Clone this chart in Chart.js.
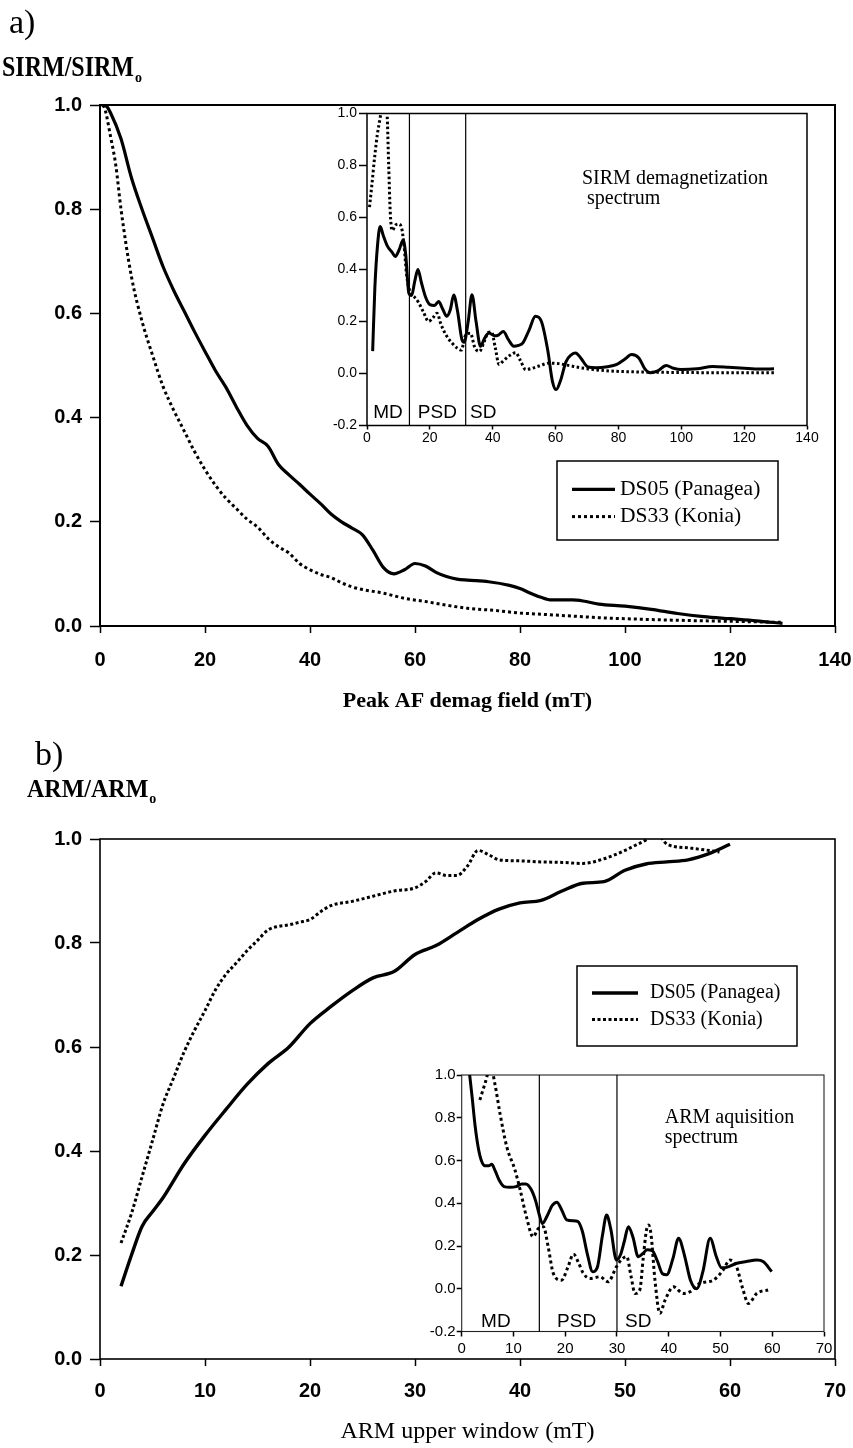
<!DOCTYPE html>
<html>
<head>
<meta charset="utf-8">
<script src="https://cdn.jsdelivr.net/npm/chart.js@4.4.1/dist/chart.umd.min.js"></script>
<style>
  html, body { margin: 0; padding: 0; background: #fff; }
  #page { position: relative; width: 853px; height: 1448px; overflow: hidden; background: #fff; }
  .slot { position: absolute; }
  canvas { display: block; }
</style>
</head>
<body>
<div id="page">
  <div class="slot" style="left:0;top:0;"><canvas id="mainA" width="853" height="720"></canvas></div>
  <div class="slot" style="left:320px;top:100px;"><canvas id="insetA" width="500" height="360"></canvas></div>
  <div class="slot" style="left:0;top:720px;"><canvas id="mainB" width="853" height="728"></canvas></div>
  <div class="slot" style="left:420px;top:1060px;"><canvas id="insetB" width="420" height="300"></canvas></div>
</div>
<script>
// ---------------- data ----------------
// a) SIRM demagnetization curves: peak AF field (mT) vs SIRM/SIRMo
const sirmFieldDS05 = [0.3,1.2,2,4,6,8,10,12,14,16,18,20,22,24,26,28,30,32,34,36,38,40,42,44,46,48,50,52,54,56,58,60,62,64,66,68,70,74,78,80,82,84,86,90,92,95,100,105,110,115,120,125,130];
const sirmDS05 = [1.0,0.998,0.985,0.935,0.86,0.80,0.745,0.69,0.645,0.605,0.565,0.527,0.49,0.458,0.42,0.385,0.36,0.345,0.31,0.29,0.272,0.253,0.235,0.215,0.20,0.188,0.175,0.145,0.112,0.10,0.108,0.12,0.115,0.103,0.095,0.09,0.088,0.085,0.078,0.072,0.063,0.055,0.05,0.05,0.048,0.042,0.038,0.032,0.024,0.018,0.014,0.01,0.005];
const sirmFieldDS33 = [0.6,1,2,3,4,6,8,10,12,14,16,18,20,22,24,26,28,30,32,34,36,38,40,42,44,46,48,50,54,58,62,66,70,75,80,85,90,95,100,110,120,130];
const sirmDS33 = [1.0,0.99,0.94,0.885,0.80,0.67,0.585,0.52,0.46,0.415,0.375,0.335,0.30,0.27,0.245,0.225,0.205,0.19,0.168,0.152,0.14,0.12,0.108,0.099,0.093,0.083,0.075,0.07,0.063,0.053,0.047,0.04,0.034,0.03,0.025,0.022,0.019,0.016,0.014,0.011,0.009,0.007];

// a) inset: SIRM demagnetization spectrum
const specAFieldDS05 = [1.8,2.5,3.4,4.2,5.2,6.5,8.0,9.0,10.2,11.5,12.3,13.3,14.2,15.2,16.2,17.3,18.6,20.0,21.5,22.8,24.0,25.4,26.5,27.6,28.8,30.2,30.9,32.2,33.4,34.7,36.1,37.4,38.8,40.6,41.8,43.4,45.0,46.7,48.2,49.6,51.5,53.6,55.5,57.5,59.0,60.2,61.5,63.3,65.0,66.4,68.0,70.3,73.0,76.5,79.5,82.0,84.2,86.5,88.3,90.2,92.5,95.2,97.5,100,105,110,115,120,125,129.5];
const specADS05 = [0.086,0.33,0.50,0.565,0.53,0.49,0.466,0.45,0.475,0.513,0.46,0.31,0.30,0.355,0.40,0.35,0.295,0.265,0.262,0.277,0.25,0.22,0.245,0.302,0.24,0.13,0.12,0.2,0.303,0.2,0.105,0.135,0.156,0.145,0.148,0.162,0.13,0.105,0.108,0.118,0.165,0.22,0.2,0.09,-0.03,-0.062,-0.03,0.045,0.072,0.079,0.06,0.025,0.022,0.026,0.035,0.055,0.073,0.06,0.02,0.003,0.01,0.031,0.02,0.015,0.018,0.027,0.024,0.02,0.017,0.018];
const specAFieldDS33 = [0.8,1.5,2.5,3.3,4.0,4.7,5.5,6.3,6.9,7.4,8.0,9.0,10.0,11.0,11.8,12.6,13.8,15.0,16.3,18.0,19.6,21.0,22.3,23.5,25.3,27.2,29.0,30.0,31.3,32.9,34.3,35.8,37.2,38.6,39.6,40.8,42.0,43.5,45.5,47.3,48.8,50.5,52.5,55.0,58.0,61.0,64.5,68.0,72.0,77.0,83.0,90.0,100,110,120,130];
const specADS33 = [0.64,0.72,0.84,0.92,0.97,1.02,1.05,1.02,0.80,0.62,0.55,0.57,0.575,0.56,0.49,0.38,0.31,0.295,0.275,0.235,0.20,0.215,0.232,0.19,0.145,0.115,0.095,0.09,0.145,0.155,0.1,0.085,0.12,0.158,0.16,0.1,0.035,0.05,0.07,0.08,0.05,0.015,0.02,0.03,0.04,0.038,0.03,0.022,0.015,0.01,0.007,0.005,0.004,0.003,0.003,0.003];

// b) ARM acquisition curves: ARM upper window (mT) vs ARM/ARMo
const armWindowDS05 = [2,3,4,5,6,8,10,12,14,16,18,20,22,24,26,28,30,32,34,36,38,40,42,44,46,48,50,52,54,56,58,60];
const armDS05 = [0.14,0.20,0.255,0.283,0.31,0.375,0.43,0.48,0.528,0.568,0.60,0.645,0.678,0.708,0.733,0.745,0.778,0.795,0.82,0.845,0.865,0.877,0.882,0.90,0.915,0.918,0.94,0.952,0.956,0.96,0.972,0.99];
const armWindowDS33 = [2,3,4,5,6,7,8,9,10,11,12,13,14,15,16,17,18,19,20,21,22,24,26,28,30,31,32,33,34,35,36,37,38,40,42,44,46,48,50,51,52,53,54,56,58,59];
const armDS33 = [0.223,0.28,0.35,0.42,0.49,0.54,0.59,0.632,0.67,0.71,0.74,0.762,0.785,0.805,0.825,0.832,0.835,0.84,0.845,0.86,0.872,0.88,0.89,0.90,0.906,0.918,0.935,0.93,0.93,0.948,0.978,0.97,0.96,0.958,0.956,0.955,0.953,0.962,0.978,0.988,0.998,1.012,0.99,0.983,0.978,0.975];

// b) inset: ARM acquisition spectrum
const specBWindowDS05 = [1.4,2.0,2.6,3.2,3.8,4.5,5.2,5.8,6.5,7.2,8.2,9.3,10.5,11.6,12.4,13.4,14.3,15.0,15.6,16.5,17.5,18.4,19.3,20.3,21.5,22.4,23.3,24.3,25.3,26.2,27.2,28.0,28.8,29.9,30.7,31.4,32.2,33.1,34.1,35.0,35.8,36.8,37.8,38.8,39.6,40.8,41.9,43.0,44.2,45.4,46.6,48.0,49.2,50.2,51.2,53.0,55.0,57.0,58.3,59.9];
const specBDS05 = [1.03,0.90,0.76,0.66,0.60,0.575,0.575,0.582,0.55,0.51,0.478,0.475,0.478,0.49,0.49,0.465,0.41,0.345,0.305,0.34,0.39,0.405,0.37,0.322,0.318,0.315,0.27,0.16,0.08,0.1,0.25,0.345,0.28,0.134,0.16,0.22,0.29,0.24,0.15,0.165,0.182,0.178,0.13,0.07,0.065,0.14,0.236,0.16,0.04,0.0,0.08,0.236,0.15,0.098,0.1,0.118,0.127,0.134,0.126,0.08];
const specBWindowDS33 = [3.5,4.5,5.2,5.9,6.4,7.4,8.7,10.3,11.3,12.5,13.8,14.8,15.8,16.7,17.7,19.3,20.5,21.6,22.6,23.5,24.8,26.7,28.3,29.9,31.0,31.9,32.7,33.5,34.4,35.1,35.7,36.1,36.6,37.3,38.3,39.3,40.9,42.8,44.1,46.0,48.6,50.5,51.8,53.1,54.3,55.4,57.0,59.2];
const specBDS33 = [0.883,0.96,1.01,1.01,0.96,0.82,0.665,0.555,0.462,0.337,0.243,0.282,0.29,0.197,0.072,0.04,0.1,0.162,0.12,0.072,0.048,0.056,0.033,0.103,0.14,0.15,0.06,-0.022,-0.006,0.15,0.275,0.298,0.25,0.05,-0.115,-0.053,0.009,-0.022,-0.014,0.025,0.04,0.087,0.134,0.103,0.0,-0.069,-0.022,-0.006];

// series names
const seriesNames = ['DS05 (Panagea)', 'DS33 (Konia)'];

// tick values
const fieldTicks = [0, 20, 40, 60, 80, 100, 120, 140];
const windowTicks = [0, 10, 20, 30, 40, 50, 60, 70];
const ratioTicks = [0, 0.2, 0.4, 0.6, 0.8, 1.0];
const spectrumTicks = [-0.2, 0, 0.2, 0.4, 0.6, 0.8, 1.0];

// domain-state boundaries (mT) and their labels
const domainLabels = ['MD', 'PSD', 'SD'];
const domainBoundsA = [13.5, 31.4];
const domainBoundsB = [15, 30];

// ---------------- helpers ----------------
const SANS = '"Liberation Sans", Arial, Helvetica, sans-serif';
const SERIF = '"Liberation Serif", "Times New Roman", Times, serif';
const INK = '#000';

// condensed face for the main axis numbers when it is installed
function hasFont(name) {
  const c = document.createElement('canvas').getContext('2d');
  const probe = '0.8 140 mmmwwwiiilll';
  c.font = '40px monospace';
  const ref = c.measureText(probe).width;
  c.font = '40px "' + name + '", monospace';
  return Math.abs(c.measureText(probe).width - ref) > 0.5;
}
const NARROW = hasFont('Liberation Sans Narrow');
const MAIN_TICK = NARROW
  ? { family: '"Liberation Sans Narrow", "Liberation Sans", Arial, sans-serif', size: 24 }
  : { family: SANS, size: 20 };

function pairs(xs, ys) { return xs.map((x, i) => ({ x: x, y: ys[i] })); }

function lineSet(label, xs, ys, width, dash) {
  return {
    label: label,
    data: pairs(xs, ys),
    borderColor: INK,
    backgroundColor: INK,
    borderWidth: width,
    borderDash: dash || [],
    borderCapStyle: 'butt',
    borderJoinStyle: 'round',
    pointRadius: 0,
    fill: false,
    cubicInterpolationMode: 'monotone'
  };
}

function axis(cfg) {
  const horizontal = cfg.horizontal;
  const family = cfg.family || SANS;
  // for the x axis, cfg.labelOffset is the distance from the axis line to the label centre
  const padding = cfg.labelOffset !== undefined ? cfg.labelOffset - cfg.tickLength - cfg.fontSize * 0.6 : cfg.padding;
  return {
    type: 'linear',
    min: cfg.min, max: cfg.max,
    afterBuildTicks: s => { s.ticks = cfg.ticks.map(v => ({ value: v })); },
    afterFit: s => {
      if (horizontal) s.height = cfg.size; else s.width = cfg.size;
      // keep the plot area fixed: edge labels may hang into the page margin
      s.paddingLeft = 0; s.paddingRight = 0; s.paddingTop = 0; s.paddingBottom = 0;
    },
    border: { display: false },
    grid: { display: true, drawOnChartArea: false, drawTicks: true, tickLength: cfg.tickLength, tickColor: INK, tickWidth: cfg.tickWidth || 1.5, color: INK },
    ticks: {
      color: INK, autoSkip: false, maxRotation: 0, minRotation: 0, padding: padding,
      font: { family: family, size: cfg.fontSize, weight: cfg.bold ? 'bold' : 'normal', lineHeight: 1.2 },
      callback: v => cfg.decimals ? Number(v).toFixed(cfg.decimals) : String(v)
    },
    title: cfg.title ? {
      display: true, text: cfg.title, color: INK,
      font: { family: SERIF, size: cfg.titleSize, weight: cfg.titleBold ? 'bold' : 'normal', lineHeight: 1.2 },
      padding: { top: 0, bottom: cfg.titlePad }
    } : { display: false }
  };
}

// box around the plot area
const framePlugin = {
  id: 'frame',
  beforeDatasetsDraw(chart, args, o) {
    const { ctx, chartArea: a } = chart;
    ctx.save();
    ctx.strokeStyle = o.color || INK;
    ctx.lineWidth = o.width || 1;
    ctx.strokeRect(a.left, a.top, a.right - a.left, a.bottom - a.top);
    ctx.restore();
  }
};

// domain boundaries, their labels and the caption of an inset
const domainPlugin = {
  id: 'domains',
  beforeDatasetsDraw(chart, args, o) {
    if (!o.bounds) return;
    const { ctx, chartArea: a, scales: { x } } = chart;
    ctx.save();
    ctx.strokeStyle = INK;
    ctx.lineWidth = o.lineWidth;
    o.bounds.forEach(v => {
      const px = x.getPixelForValue(v);
      ctx.beginPath(); ctx.moveTo(px, a.top); ctx.lineTo(px, a.bottom); ctx.stroke();
    });
    ctx.fillStyle = INK;
    ctx.font = o.labelFont;
    ctx.textAlign = 'center';
    ctx.textBaseline = 'middle';
    o.labels.forEach((t, i) => ctx.fillText(t, x.getPixelForValue(o.labelAt[i]), a.bottom - o.labelRise));
    ctx.font = o.captionFont;
    ctx.textAlign = 'left';
    ctx.textBaseline = 'alphabetic';
    o.caption.forEach((line, i) => ctx.fillText(line, a.left + o.captionDx, a.top + o.captionDy + i * o.captionLead));
    ctx.restore();
  }
};

// boxed legend built from the datasets
const boxLegendPlugin = {
  id: 'boxLegend',
  afterDraw(chart, args, o) {
    if (!o.width) return;
    const ctx = chart.ctx;
    ctx.save();
    ctx.strokeStyle = INK;
    ctx.fillStyle = INK;
    ctx.lineWidth = o.borderWidth;
    ctx.strokeRect(o.left, o.top, o.width, o.height);
    chart.data.datasets.forEach((ds, i) => {
      const cy = o.top + o.firstRow + i * o.rowGap;
      ctx.lineWidth = ds.borderWidth;
      ctx.setLineDash(ds.borderDash || []);
      ctx.beginPath();
      ctx.moveTo(o.left + o.sampleStart, cy);
      ctx.lineTo(o.left + o.sampleStart + o.sampleLen, cy);
      ctx.stroke();
      ctx.setLineDash([]);
      ctx.font = o.font;
      ctx.textAlign = 'left';
      ctx.textBaseline = 'middle';
      ctx.fillText(ds.label, o.left + o.textStart, cy);
    });
    ctx.restore();
  }
};

// panel letter and the horizontal quantity label above the y axis
const panelTextPlugin = {
  id: 'panelText',
  afterDraw(chart, args, o) {
    if (!o.items) return;
    const ctx = chart.ctx;
    ctx.save();
    ctx.fillStyle = INK;
    ctx.textBaseline = 'alphabetic';
    ctx.textAlign = 'left';
    o.items.forEach(it => {
      ctx.save();
      ctx.font = it.font;
      ctx.translate(it.x, it.y);
      ctx.scale(1, it.sy || 1);
      ctx.fillText(it.text, 0, 0);
      const w = ctx.measureText(it.text).width;
      ctx.restore();
      if (it.sub) {
        ctx.font = it.subFont;
        ctx.fillText(it.sub, it.x + w + 1, it.y + it.subDy);
      }
    });
    ctx.restore();
  }
};

Chart.register(framePlugin, domainPlugin, boxLegendPlugin, panelTextPlugin);

function baseOptions(padding, scales, plugins) {
  return {
    responsive: false,
    animation: false,
    events: [],
    layout: { padding: padding, autoPadding: false },
    scales: scales,
    plugins: Object.assign({ legend: { display: false }, tooltip: { enabled: false } }, plugins)
  };
}

// ---------------- a) main ----------------
new Chart(document.getElementById('mainA'), {
  type: 'line',
  data: { datasets: [
    lineSet(seriesNames[0], sirmFieldDS05, sirmDS05, 3.2),
    lineSet(seriesNames[1], sirmFieldDS33, sirmDS33, 3, [3, 3])
  ] },
  options: baseOptions({ top: 105, left: 0, right: 18, bottom: 0 }, {
    x: axis({ horizontal: true, min: 0, max: 140, ticks: fieldTicks, size: 94, tickLength: 7, labelOffset: 34,
              family: MAIN_TICK.family, fontSize: MAIN_TICK.size, bold: true,
              title: 'Peak AF demag field (mT)', titleSize: 22, titleBold: true, titlePad: 5 }),
    y: axis({ min: 0, max: 1, ticks: ratioTicks, size: 100, tickLength: 10, padding: 8,
              family: MAIN_TICK.family, fontSize: MAIN_TICK.size, bold: true, decimals: 1 })
  }, {
    frame: { width: 2 },
    boxLegend: { left: 557, top: 461, width: 221, height: 79, borderWidth: 1.5, firstRow: 28.3, rowGap: 27.3,
                 sampleStart: 15, sampleLen: 43, textStart: 63, font: '21.5px ' + SERIF },
    panelText: { items: [
      { text: 'a)', x: 9, y: 33, font: '34px ' + SERIF },
      { text: 'SIRM/SIRM', x: 2, y: 76, font: 'bold 24px ' + SERIF, sy: 1.2, sub: 'o', subFont: 'bold 14px ' + SERIF, subDy: 6 }
    ] }
  })
});

// ---------------- a) inset ----------------
new Chart(document.getElementById('insetA'), {
  type: 'line',
  data: { datasets: [
    lineSet(seriesNames[0], specAFieldDS05, specADS05, 3),
    lineSet(seriesNames[1], specAFieldDS33, specADS33, 3, [2.5, 2.5])
  ] },
  options: baseOptions({ top: 13.5, left: 0, right: 13, bottom: 0 }, {
    x: axis({ horizontal: true, min: 0, max: 140, ticks: fieldTicks, size: 34.5, tickLength: 4, padding: 0, fontSize: 14 }),
    y: axis({ min: -0.2, max: 1, ticks: spectrumTicks, size: 47, tickLength: 8, padding: 2, fontSize: 14, decimals: 1 })
  }, {
    frame: { width: 1.5 },
    domains: { bounds: domainBoundsA, lineWidth: 1.2, labels: domainLabels, labelAt: [6.7, 22.4, 37.0], labelRise: 13,
               labelFont: '19px ' + SANS, captionFont: '20px ' + SERIF,
               caption: ['SIRM demagnetization', ' spectrum'], captionDx: 215, captionDy: 70.5, captionLead: 20 }
  })
});

// ---------------- b) main ----------------
new Chart(document.getElementById('mainB'), {
  type: 'line',
  data: { datasets: [
    lineSet(seriesNames[0], armWindowDS05, armDS05, 3.4),
    lineSet(seriesNames[1], armWindowDS33, armDS33, 3, [3, 2.5])
  ] },
  options: baseOptions({ top: 119, left: 0, right: 18, bottom: 0 }, {
    x: axis({ horizontal: true, min: 0, max: 70, ticks: windowTicks, size: 89, tickLength: 7, labelOffset: 32,
              family: MAIN_TICK.family, fontSize: MAIN_TICK.size, bold: true,
              title: 'ARM upper window (mT)', titleSize: 24, titleBold: false, titlePad: 2 }),
    y: axis({ min: 0, max: 1, ticks: ratioTicks, size: 100, tickLength: 10, padding: 8,
              family: MAIN_TICK.family, fontSize: MAIN_TICK.size, bold: true, decimals: 1 })
  }, {
    frame: { width: 1.6 },
    boxLegend: { left: 577, top: 246, width: 220, height: 80, borderWidth: 1.5, firstRow: 27, rowGap: 26.5,
                 sampleStart: 15, sampleLen: 46, textStart: 73, font: '20px ' + SERIF },
    panelText: { items: [
      { text: 'b)', x: 35, y: 45, font: '34px ' + SERIF },
      { text: 'ARM/ARM', x: 27, y: 77, font: 'bold 24px ' + SERIF, sy: 1.05, sub: 'o', subFont: 'bold 14px ' + SERIF, subDy: 6 }
    ] }
  })
});

// ---------------- b) inset ----------------
new Chart(document.getElementById('insetB'), {
  type: 'line',
  data: { datasets: [
    lineSet(seriesNames[0], specBWindowDS05, specBDS05, 3),
    lineSet(seriesNames[1], specBWindowDS33, specBDS33, 3, [3, 3])
  ] },
  options: baseOptions({ top: 15, left: 0, right: 16, bottom: 0 }, {
    x: axis({ horizontal: true, min: 0, max: 70, ticks: windowTicks, size: 28.5, tickLength: 5, padding: 3, fontSize: 15 }),
    y: axis({ min: -0.2, max: 1, ticks: spectrumTicks, size: 41.7, tickLength: 5, padding: 1, fontSize: 15, decimals: 1 })
  }, {
    frame: { width: 1.1, color: '#222' },
    domains: { bounds: domainBoundsB, lineWidth: 1.2, labels: domainLabels, labelAt: [6.6, 22.2, 34.1], labelRise: 10,
               labelFont: '19px ' + SANS, captionFont: '20px ' + SERIF,
               caption: ['ARM aquisition', 'spectrum'], captionDx: 203, captionDy: 48, captionLead: 20 }
  })
});
</script>
</body>
</html>
